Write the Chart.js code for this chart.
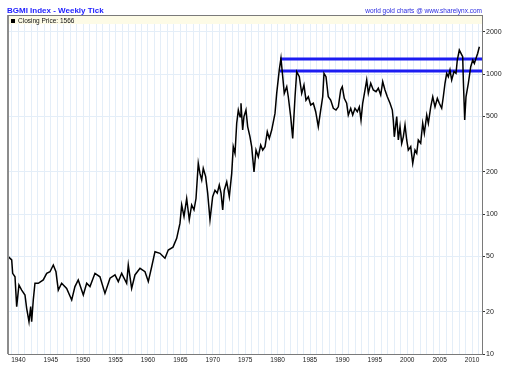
<!DOCTYPE html>
<html>
<head>
<meta charset="utf-8">
<script src="https://cdn.jsdelivr.net/npm/chart.js@4"></script>
<style>
  html, body { margin: 0; padding: 0; background: #fff; }
  canvas { display: block; }
</style>
</head>
<body>
<canvas id="chart" width="505" height="373"></canvas>
<script>
// weekly closes (decimal year, index value)
const years = [
  1938.44, 1938.97, 1939.12, 1939.48, 1939.74, 1940.09, 1940.51, 1941.02, 1941.28, 1941.64,
  1941.90, 1942.05, 1942.30, 1942.56, 1943.07, 1943.84, 1944.37, 1944.88, 1945.39, 1945.80,
  1946.16, 1946.68, 1947.45, 1948.23, 1948.73, 1949.24, 1950.02, 1950.54, 1951.05, 1951.82,
  1952.59, 1953.36, 1954.14, 1954.91, 1955.42, 1955.94, 1956.71, 1956.96, 1957.48, 1957.99,
  1958.77, 1959.54, 1960.05, 1960.57, 1961.08, 1961.85, 1962.62, 1963.13, 1963.86, 1964.43,
  1964.94, 1965.20, 1965.56, 1965.97, 1966.37, 1966.74, 1967.10, 1967.41, 1967.76, 1968.02,
  1968.29, 1968.53, 1968.90, 1969.21, 1969.57, 1969.98, 1970.34, 1970.69, 1971.00, 1971.27,
  1971.53, 1971.77, 1972.15, 1972.55, 1972.92, 1973.16, 1973.43, 1973.69, 1973.94, 1974.20,
  1974.35, 1974.61, 1974.81, 1975.12, 1975.38, 1975.74, 1976.00, 1976.36, 1976.67, 1977.02,
  1977.39, 1977.70, 1978.06, 1978.41, 1978.72, 1979.09, 1979.60, 1979.86, 1980.26, 1980.52,
  1980.79, 1981.03, 1981.41, 1981.65, 1982.02, 1982.33, 1982.69, 1982.95, 1983.35, 1983.72,
  1984.07, 1984.38, 1984.74, 1985.11, 1985.51, 1985.88, 1986.28, 1986.65, 1986.96, 1987.16,
  1987.47, 1987.82, 1988.19, 1988.60, 1989.01, 1989.37, 1989.74, 1989.98, 1990.29, 1990.66,
  1990.91, 1991.28, 1991.59, 1991.94, 1992.30, 1992.61, 1992.87, 1993.13, 1993.49, 1993.75,
  1994.00, 1994.37, 1994.77, 1995.19, 1995.54, 1995.91, 1996.22, 1996.57, 1996.93, 1997.35,
  1997.70, 1997.85, 1998.01, 1998.38, 1998.63, 1998.89, 1999.15, 1999.40, 1999.66, 1999.92,
  2000.17, 2000.54, 2000.85, 2001.20, 2001.47, 2001.71, 2002.08, 2002.39, 2002.64, 2003.01,
  2003.26, 2003.63, 2003.94, 2004.29, 2004.65, 2004.95, 2005.32, 2005.57, 2005.83, 2006.09,
  2006.34, 2006.60, 2006.86, 2007.22, 2007.53, 2007.73, 2008.04, 2008.30, 2008.56, 2008.66,
  2008.87, 2009.07, 2009.43, 2009.80, 2010.11, 2010.36, 2010.62, 2010.88, 2011.13
];
const closes = [
  49.6, 47, 37.7, 35.6, 21.8, 31.1, 28.6, 26.4, 21.2, 17,
  21.8, 17, 24.3, 32, 32, 33.8, 37.7, 38.7, 43.2, 38.7,
  28.6, 32, 29.4, 24.3, 30.3, 33.8, 26.4, 32, 30.3, 37.7,
  35.6, 27.1, 34.8, 36.7, 32.9, 37.7, 32, 43.2, 29.4, 36.7,
  40.9, 38.7, 32.9, 42, 53.8, 52.4, 48.3, 55.3, 58, 67,
  86, 116, 96, 129, 91, 116, 107, 129, 230, 195,
  175, 212, 185, 141, 91, 133, 148, 141, 161, 141,
  107, 148, 170, 133, 195, 303, 271, 445, 553, 496,
  618, 398, 496, 553, 421, 356, 303, 200, 286, 256,
  311, 286, 303, 387, 347, 398, 523, 728, 1069, 1294,
  957, 728, 811, 688, 496, 347, 688, 1040, 957, 728,
  834, 651, 688, 601, 618, 538, 421, 553, 688, 1011,
  957, 688, 651, 569, 553, 583, 769, 811, 670, 618,
  509, 569, 509, 569, 538, 583, 469, 618, 769, 906,
  728, 859, 769, 748, 791, 708, 881, 769, 688, 618,
  553, 469, 356, 496, 338, 421, 320, 356, 433, 338,
  286, 303, 230, 286, 271, 338, 320, 445, 377, 509,
  445, 583, 688, 583, 670, 618, 569, 688, 859, 1011,
  957, 1069, 906, 1040, 1011, 1259, 1483, 1406, 1330, 906,
  469, 688, 859, 1127, 1259, 1191, 1294, 1406, 1566
];

// the two blue resistance levels drawn from the 1980 peak
const levels = [1280, 1050];
const levelStart = 1980.37;

const xMin = 1938.4;
const xMax = 2011.54;
const yTicks = [10, 20, 50, 100, 200, 500, 1000, 2000];
const xTickLabels = ['1940', '1945', '1950', '1955', '1960', '1965', '1970', '1975',
  '1980', '1985', '1990', '1995', '2000', '2005', '2010'];

const lastClose = closes[closes.length - 1];

const decor = {
  id: 'decor',
  beforeDatasetsDraw(chart) {
    const { ctx, chartArea: a } = chart;
    ctx.save();
    ctx.fillStyle = '#fdfbe6';
    ctx.fillRect(a.left, a.top, a.right - a.left, 9);
    ctx.restore();
  },
  afterDraw(chart) {
    const { ctx, chartArea: a } = chart;
    ctx.save();
    // frame left and top
    ctx.strokeStyle = '#8c8c8c';
    ctx.lineWidth = 2;
    ctx.beginPath();
    ctx.moveTo(a.left, a.top);
    ctx.lineTo(a.left, a.bottom);
    ctx.stroke();
    ctx.lineWidth = 1;
    ctx.strokeStyle = '#7a7a7a';
    ctx.beginPath();
    ctx.moveTo(a.left, a.top + 0.5);
    ctx.lineTo(a.right, a.top + 0.5);
    ctx.stroke();

    // legend
    ctx.fillStyle = '#000';
    ctx.fillRect(a.left + 3, a.top + 4, 4, 4);
    ctx.font = '6.5px "Liberation Sans", Arial, sans-serif';
    ctx.textBaseline = 'middle';
    ctx.textAlign = 'left';
    ctx.fillStyle = '#111';
    ctx.fillText('Closing Price: ' + lastClose, a.left + 10, a.top + 6);

    // titles
    ctx.textBaseline = 'alphabetic';
    ctx.fillStyle = '#1d1dff';
    ctx.font = 'bold 8px "Liberation Sans", Arial, sans-serif';
    ctx.fillText('BGMI Index - Weekly Tick', 7, 13);
    ctx.fillStyle = '#2a2ae0';
    ctx.font = '6.5px "Liberation Sans", Arial, sans-serif';
    ctx.textAlign = 'right';
    ctx.fillText('world gold charts @ www.sharelynx.com', a.right, 13);
    ctx.restore();
  }
};

const levelSets = levels.map((v) => ({
  data: [{ x: levelStart, y: v }, { x: xMax, y: v }],
  borderColor: '#1c1cf2',
  borderWidth: 3,
  pointRadius: 0,
  order: 1
}));

new Chart(document.getElementById('chart'), {
  type: 'line',
  data: {
    datasets: [
      {
        data: years.map((yr, i) => ({ x: yr, y: closes[i] })),
        borderColor: '#000',
        borderWidth: 1.5,
        pointRadius: 0,
        tension: 0,
        order: 0
      },
      ...levelSets
    ]
  },
  options: {
    responsive: false,
    animation: false,
    layout: { padding: { left: 8, top: 15, right: 0, bottom: 0 } },
    plugins: { legend: { display: false }, tooltip: { enabled: false } },
    scales: {
      x: {
        type: 'linear',
        min: xMin,
        max: xMax,
        afterBuildTicks: (scale) => {
          const t = [];
          for (let y = 1939; y <= 2011; y++) t.push({ value: y });
          scale.ticks = t;
        },
        afterFit: (scale) => { scale.height = 19; },
        grid: { color: '#e4eef8', drawTicks: false },
        border: { color: '#7a7a7a', width: 1 },
        ticks: {
          autoSkip: false,
          maxRotation: 0,
          padding: 2,
          color: '#222',
          font: { size: 6.5, family: '"Liberation Sans", Arial, sans-serif' },
          callback: (v) => (xTickLabels.includes(String(v)) ? String(v) : '')
        }
      },
      y: {
        type: 'logarithmic',
        position: 'right',
        min: 10,
        max: 2640,
        afterBuildTicks: (scale) => {
          scale.ticks = yTicks.map((v) => ({ value: v }));
        },
        afterFit: (scale) => { scale.width = 23; },
        grid: { color: '#e4eef8', tickColor: '#333', tickLength: 3 },
        border: { color: '#7a7a7a', width: 1 },
        ticks: {
          padding: 1,
          color: '#222',
          font: { size: 7, family: '"Liberation Sans", Arial, sans-serif' },
          callback: (v) => String(v)
        }
      }
    }
  },
  plugins: [decor]
});
</script>
</body>
</html>
